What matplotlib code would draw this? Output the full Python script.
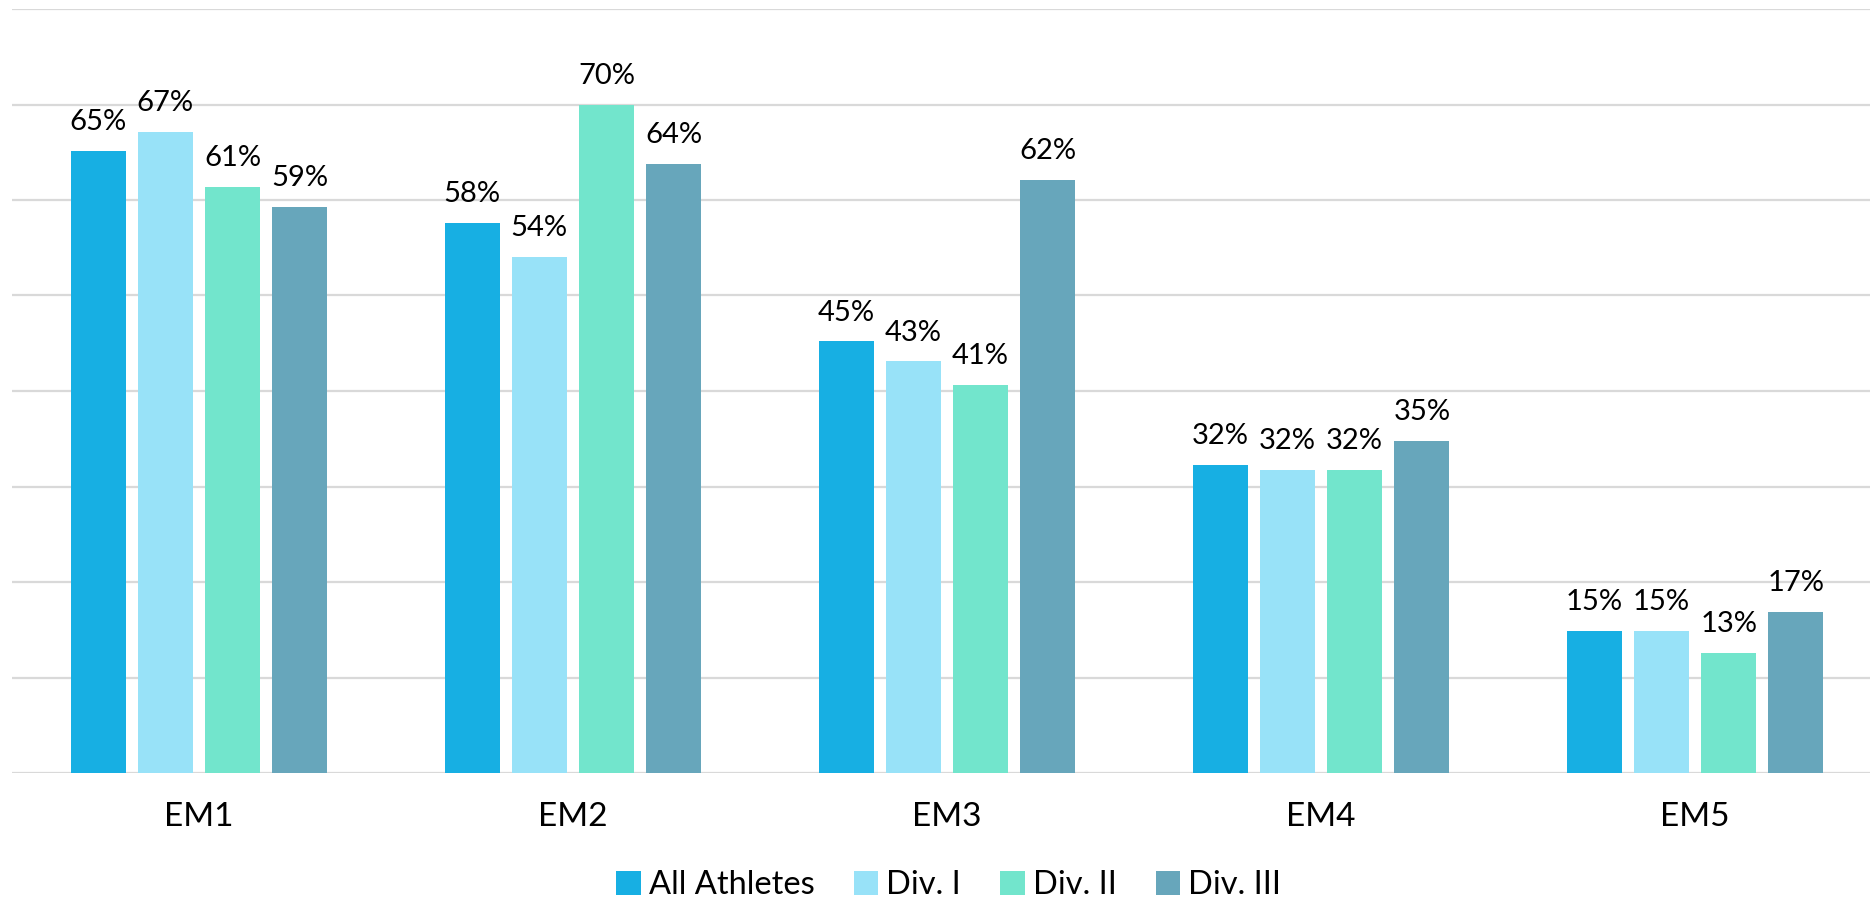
import matplotlib.pyplot as plt
import numpy as np

plt.rcParams['font.family'] = ['Lato', 'DejaVu Sans']

# data (percent)
categories = ['EM1', 'EM2', 'EM3', 'EM4', 'EM5']
series_names = ['All Athletes', 'Div. I', 'Div. II', 'Div. III']
all_athletes = [65.1, 57.6, 45.2, 32.3, 14.9]
div_1 = [67.1, 54.0, 43.1, 31.7, 14.9]
div_2 = [61.4, 70.0, 40.6, 31.7, 12.6]
div_3 = [59.3, 63.8, 62.1, 34.8, 16.9]

colors = ['#17AFE3', '#98E2F8', '#72E5CC', '#67A6BB']

W, H = 1870, 900
fig = plt.figure(figsize=(W / 100, H / 100), dpi=100)
ax = fig.add_axes([12 / W, 127 / H, 1870 / W, 764 / H])

x = np.arange(len(categories))
pitch = 0.18
width = 0.147
series = [all_athletes, div_1, div_2, div_3]
for i, vals in enumerate(series):
    pos = x + (i - 1.5) * pitch
    bars = ax.bar(pos, vals, width=width, color=colors[i], label=series_names[i], zorder=3)
    for b, v in zip(bars, vals):
        ax.annotate('%.0f%%' % v, (b.get_x() + b.get_width() / 2, v),
                    xytext=(0, 15), textcoords='offset points',
                    ha='center', va='baseline', fontsize=21, color='black')

ax.set_xlim(-0.5, 4.5)
ax.set_ylim(0, 80)
ax.set_yticks(np.arange(0, 81, 10))
ax.yaxis.grid(True, color='#D9D9D9', linewidth=1.6, zorder=0)
ax.tick_params(axis='y', left=False, labelleft=False)
ax.set_xticks(x)
ax.set_xticklabels(categories, fontsize=24)
ax.tick_params(axis='x', length=0, pad=21)
for s in ['top', 'right', 'left', 'bottom']:
    ax.spines[s].set_visible(False)

fig.legend(loc='center left', bbox_to_anchor=(603 / W, 1 - 885 / H), ncol=4,
           frameon=False, fontsize=23.5, handlelength=0.75, handleheight=0.75,
           handletextpad=0.25, columnspacing=1.2, borderaxespad=0)

plt.savefig('out.png', dpi=100)
